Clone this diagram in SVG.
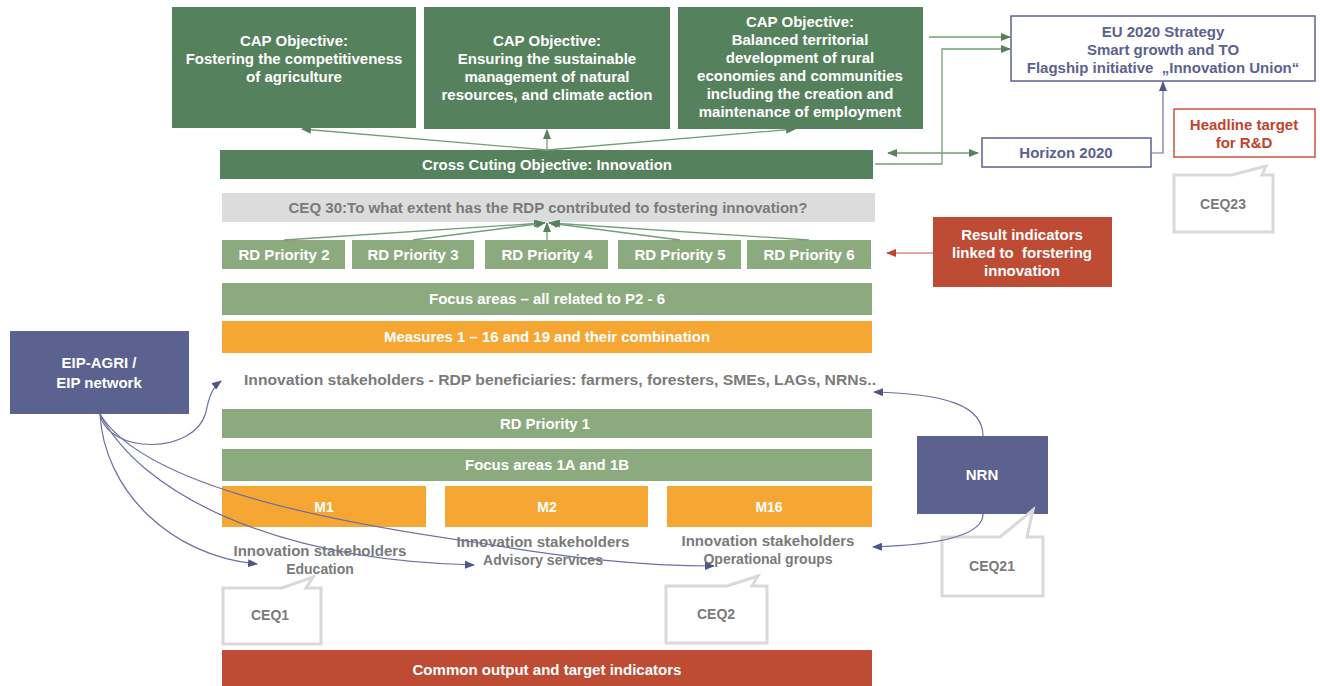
<svg xmlns="http://www.w3.org/2000/svg" width="1320" height="686" viewBox="0 0 1320 686">
<style>
text{font-family:"Liberation Sans",Arial,sans-serif;font-weight:bold;text-anchor:middle}
.w{fill:#ffffff}
.g{fill:#7a7a7a}
.b{fill:#5b628f}
.r{fill:#c0442e}
.dk{fill:#56815d}
.lg{fill:#8bab7f}
.or{fill:#f6a733}
.rd{fill:#be4b34}
.pu{fill:#5b628f}
.cq{fill:#ffffff;stroke:#d9d9d9;stroke-width:3}
.gl{fill:none;stroke:#72a07a;stroke-width:1.3}
.bl{fill:none;stroke:#6a71a0;stroke-width:1.2}
.rl{fill:none;stroke:#d98b80;stroke-width:1.5}
</style>
<defs>
<marker id="ag" markerWidth="10" markerHeight="8" refX="9" refY="4" orient="auto" markerUnits="userSpaceOnUse"><path d="M0,0 L10,4 L0,8 Z" fill="#56815d"/></marker>
<marker id="ags" markerWidth="10" markerHeight="8" refX="1" refY="4" orient="auto" markerUnits="userSpaceOnUse"><path d="M10,0 L0,4 L10,8 Z" fill="#56815d"/></marker>
<marker id="ab" markerWidth="10" markerHeight="8" refX="9" refY="4" orient="auto" markerUnits="userSpaceOnUse"><path d="M0,0 L10,4 L0,8 Z" fill="#4f5788"/></marker>
<marker id="ar" markerWidth="10" markerHeight="8" refX="9" refY="4" orient="auto" markerUnits="userSpaceOnUse"><path d="M0,0 L10,4 L0,8 Z" fill="#c0442e"/></marker>
</defs>
<rect width="1320" height="686" fill="#ffffff"/>

<g id="cap1"><rect class="dk" x="172" y="7" width="244" height="121"/>
<text class="w" font-size="15" x="294" y="46">CAP Objective:</text>
<text class="w" font-size="15" x="294" y="64">Fostering the competitiveness</text>
<text class="w" font-size="15" x="294" y="82">of agriculture</text></g>

<g id="cap2"><rect class="dk" x="424" y="7" width="246" height="122"/>
<text class="w" font-size="15" x="547" y="46">CAP Objective:</text>
<text class="w" font-size="15" x="547" y="64">Ensuring the sustainable</text>
<text class="w" font-size="15" x="547" y="82">management of natural</text>
<text class="w" font-size="15" x="547" y="100">resources, and climate action</text></g>

<g id="cap3"><rect class="dk" x="678" y="7" width="245" height="122"/>
<text class="w" font-size="15" x="800" y="27">CAP Objective:</text>
<text class="w" font-size="15" x="800" y="45">Balanced territorial</text>
<text class="w" font-size="15" x="800" y="63">development of rural</text>
<text class="w" font-size="15" x="800" y="81">economies and communities</text>
<text class="w" font-size="15" x="800" y="99">including the creation and</text>
<text class="w" font-size="15" x="800" y="117">maintenance of employment</text></g>

<g id="eu2020"><rect x="1011" y="16" width="304" height="65" fill="#ffffff" stroke="#5b628f" stroke-width="1.5"/>
<text class="b" font-size="15" x="1163" y="37">EU 2020 Strategy</text>
<text class="b" font-size="15" x="1163" y="55">Smart growth and TO</text>
<text class="b" font-size="15" x="1163" y="73" xml:space="preserve">Flagship initiative  „Innovation Union“</text></g>

<g id="horizon"><rect x="982" y="138" width="169" height="29" fill="#ffffff" stroke="#5b628f" stroke-width="1.5"/>
<text class="b" font-size="15" x="1066" y="158">Horizon 2020</text></g>

<g id="headline"><rect x="1174" y="109" width="141" height="48" fill="#ffffff" stroke="#c9533f" stroke-width="1.5"/>
<text class="r" font-size="15" x="1244" y="130">Headline target</text>
<text class="r" font-size="15" x="1244" y="148">for R&amp;D</text></g>

<g id="ceq23"><path class="cq" d="M1174,175 L1232,175 L1266,166 L1262,175 L1273,175 L1273,232 L1174,232 Z"/>
<text class="g" font-size="14" x="1223" y="209">CEQ23</text></g>

<g id="crosscut"><rect class="dk" x="220" y="150" width="653" height="29"/>
<text class="w" font-size="14" x="547" y="170" textLength="250" lengthAdjust="spacingAndGlyphs">Cross Cuting Objective: Innovation</text></g>

<g id="ceq30"><rect x="222" y="193" width="653" height="29" fill="#dcdcdc"/>
<text class="g" font-size="14" x="548" y="213" textLength="519" lengthAdjust="spacingAndGlyphs">CEQ 30:To what extent has the RDP contributed to fostering innovation?</text></g>

<g id="p2"><rect class="lg" x="222" y="240" width="123" height="29"/><text class="w" font-size="14" x="284" y="260" textLength="91" lengthAdjust="spacingAndGlyphs">RD Priority 2</text></g>
<g id="p3"><rect class="lg" x="352" y="240" width="122" height="29"/><text class="w" font-size="14" x="413" y="260" textLength="91" lengthAdjust="spacingAndGlyphs">RD Priority 3</text></g>
<g id="p4"><rect class="lg" x="485" y="240" width="123" height="29"/><text class="w" font-size="14" x="547" y="260" textLength="91" lengthAdjust="spacingAndGlyphs">RD Priority 4</text></g>
<g id="p5"><rect class="lg" x="618" y="240" width="123" height="29"/><text class="w" font-size="14" x="680" y="260" textLength="91" lengthAdjust="spacingAndGlyphs">RD Priority 5</text></g>
<g id="p6"><rect class="lg" x="747" y="240" width="124" height="29"/><text class="w" font-size="14" x="809" y="260" textLength="91" lengthAdjust="spacingAndGlyphs">RD Priority 6</text></g>

<g id="result"><rect class="rd" x="933" y="217" width="179" height="70"/>
<text class="w" font-size="15" x="1022" y="240">Result indicators</text>
<text class="w" font-size="15" x="1022" y="258" xml:space="preserve">linked to  forstering</text>
<text class="w" font-size="15" x="1022" y="276">innovation</text></g>

<g id="focus26"><rect class="lg" x="222" y="283" width="650" height="32"/>
<text class="w" font-size="14" x="547" y="304" textLength="236" lengthAdjust="spacingAndGlyphs">Focus areas – all related to P2 - 6</text></g>

<g id="measures"><rect class="or" x="222" y="321" width="650" height="32"/>
<text class="w" font-size="14" x="547" y="342" textLength="326" lengthAdjust="spacingAndGlyphs">Measures 1 – 16 and 19 and their combination</text></g>

<g id="stakeholders"><text class="g" font-size="14" x="560" y="385" textLength="632" lengthAdjust="spacingAndGlyphs">Innovation stakeholders - RDP beneficiaries: farmers, foresters, SMEs, LAGs, NRNs..</text></g>

<g id="eip"><rect class="pu" x="10" y="331" width="179" height="83"/>
<text class="w" font-size="15" x="99" y="368">EIP-AGRI /</text>
<text class="w" font-size="15" x="99" y="388">EIP network</text></g>

<g id="p1"><rect class="lg" x="222" y="409" width="650" height="29"/>
<text class="w" font-size="14" x="545" y="429" textLength="90" lengthAdjust="spacingAndGlyphs">RD Priority 1</text></g>

<g id="focus1"><rect class="lg" x="222" y="449" width="650" height="32"/>
<text class="w" font-size="14" x="547" y="470" textLength="164" lengthAdjust="spacingAndGlyphs">Focus areas 1A and 1B</text></g>

<g id="m1"><rect class="or" x="222" y="486" width="204" height="41"/><text class="w" font-size="14" x="324" y="512">M1</text></g>
<g id="m2"><rect class="or" x="445" y="486" width="203" height="41"/><text class="w" font-size="14" x="547" y="512">M2</text></g>
<g id="m16"><rect class="or" x="667" y="486" width="205" height="41"/><text class="w" font-size="14" x="769" y="512">M16</text></g>

<g id="edu"><text class="g" font-size="14" x="320" y="556" textLength="173" lengthAdjust="spacingAndGlyphs">Innovation stakeholders</text>
<text class="g" font-size="14" x="320" y="574">Education</text></g>
<g id="adv"><text class="g" font-size="14" x="543" y="547" textLength="173" lengthAdjust="spacingAndGlyphs">Innovation stakeholders</text>
<text class="g" font-size="14" x="543" y="565">Advisory services</text></g>
<g id="opg"><text class="g" font-size="14" x="768" y="546" textLength="173" lengthAdjust="spacingAndGlyphs">Innovation stakeholders</text>
<text class="g" font-size="14" x="768" y="564">Operational groups</text></g>

<g id="nrn"><rect class="pu" x="917" y="436" width="131" height="78"/>
<text class="w" font-size="15" x="982" y="480">NRN</text></g>

<g id="ceq21"><path class="cq" d="M942,537 L1000,537 L1033,510 L1027,537 L1043,537 L1043,596 L942,596 Z"/>
<text class="g" font-size="14" x="992" y="571">CEQ21</text></g>

<g id="ceq1"><path class="cq" d="M223,588 L282,588 L313,577 L306,588 L321,588 L321,644 L223,644 Z"/>
<text class="g" font-size="14" x="270" y="620">CEQ1</text></g>

<g id="ceq2"><path class="cq" d="M666,586 L727,586 L758,576 L752,586 L767,586 L767,643 L666,643 Z"/>
<text class="g" font-size="14" x="716" y="619">CEQ2</text></g>

<g id="common"><rect class="rd" x="222" y="650" width="650" height="36"/>
<text class="w" font-size="14" x="547" y="675" textLength="269" lengthAdjust="spacingAndGlyphs">Common output and target indicators</text></g>

<g id="connectors">
<line class="gl" x1="547" y1="150" x2="302" y2="129" marker-end="url(#ag)"/>
<line class="gl" x1="547" y1="150" x2="547" y2="130" marker-end="url(#ag)"/>
<line class="gl" x1="547" y1="150" x2="795" y2="129" marker-end="url(#ag)"/>
<line class="gl" x1="284" y1="240" x2="543" y2="223" marker-end="url(#ag)"/>
<line class="gl" x1="413" y1="240" x2="545" y2="223" marker-end="url(#ag)"/>
<line class="gl" x1="547" y1="240" x2="547" y2="223" marker-end="url(#ag)"/>
<line class="gl" x1="680" y1="240" x2="549" y2="223" marker-end="url(#ag)"/>
<line class="gl" x1="809" y1="240" x2="551" y2="223" marker-end="url(#ag)"/>
<line class="gl" x1="929" y1="37" x2="1010" y2="37" marker-end="url(#ag)"/>
<polyline class="gl" points="875,164 942,164 942,49 1010,49" marker-end="url(#ag)"/>
<line class="gl" x1="888" y1="153" x2="978" y2="153" marker-start="url(#ags)" marker-end="url(#ag)"/>
<polyline class="bl" points="1151,153 1163,153 1163,82" marker-end="url(#ab)"/>
<line class="rl" x1="933" y1="253" x2="887" y2="253" marker-end="url(#ar)"/>
<path class="bl" d="M100,414 C108,455 195,455 206,412 C209,396 213,387 221,381" marker-end="url(#ab)"/>
<path class="bl" d="M100,414 C104,490 170,556 257,564" marker-end="url(#ab)"/>
<path class="bl" d="M100,414 C140,492 270,560 474,565" marker-end="url(#ab)"/>
<path class="bl" d="M100,414 C140,480 300,518 480,543 C570,558 640,566 714,566" marker-end="url(#ab)"/>
<path class="bl" d="M983,436 C983,405 945,394 874,392" marker-end="url(#ab)"/>
<path class="bl" d="M983,514 C983,536 935,545 873,547" marker-end="url(#ab)"/>
</g>
</svg>
